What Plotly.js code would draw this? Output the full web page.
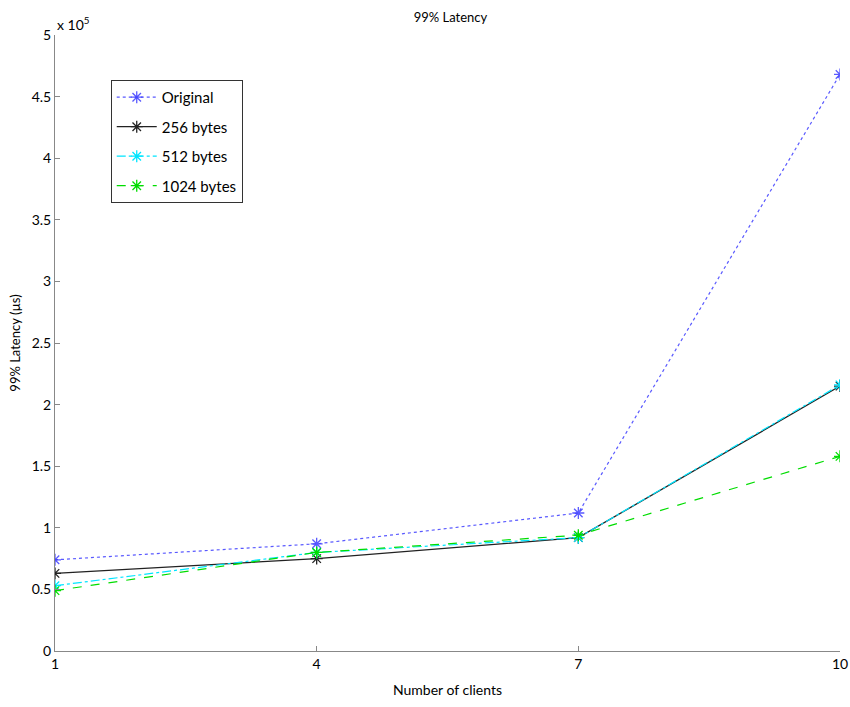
<!DOCTYPE html>
<html>
<head>
<meta charset="utf-8">
<script src="https://cdn.plot.ly/plotly-3.0.1.min.js"></script>
<style>
  html, body { margin: 0; padding: 0; background: #fff; }
  #chart { width: 850px; height: 707px; }
</style>
</head>
<body>
<div id="chart"></div>
<script>
// Number of clients on the x axis
const clients = [1, 4, 7, 10];

// 99th percentile latency in microseconds
const original = [74000, 87000, 112000, 468000];
const bytes256 = [63000, 75000, 92000, 215000];
const bytes512 = [53000, 80000, 92000, 216000];
const bytes1024 = [49000, 80000, 94000, 158000];

const seriesNames = ['Original', '256 bytes', '512 bytes', '1024 bytes'];

// y tick labels are shown in units of 1e5
const yTickLabels = ['0', '0.5', '1', '1.5', '2', '2.5', '3', '3.5', '4', '4.5', '5'];
const yScale = 1e5;

const styles = [
  { color: 'rgba(60,60,255,0.85)', dash: 'dot' },
  { color: '#222222', dash: 'solid' },
  { color: '#00e5ff', dash: 'dashdot' },
  { color: '#00dd00', dash: 'dash' }
];
const values = [original, bytes256, bytes512, bytes1024];

const traces = values.map((v, i) => ({
  x: clients,
  y: v,
  name: seriesNames[i],
  legendgroup: 'g' + i,
  type: 'scatter',
  mode: 'lines+markers',
  line: { color: styles[i].color, dash: styles[i].dash, width: i === 1 ? 1.3 : 1.2 },
  marker: { symbol: 'asterisk-open', size: 10, line: { color: styles[i].color, width: 1.3 } }
}));

const font = { family: 'Lato, "Liberation Sans", sans-serif', size: 14, color: '#000' };

const layout = {
  width: 850,
  height: 707,
  margin: { l: 55, r: 10, t: 35, b: 56 },
  paper_bgcolor: '#fff',
  plot_bgcolor: '#fff',
  font: font,
  showlegend: true,
  title: { text: '99% Latency', font: { family: font.family, size: 13, color: '#000' }, x: 0.53, xanchor: 'center', y: 0.976, yanchor: 'middle' },
  xaxis: {
    range: [1, 10],
    tickvals: clients,
    ticktext: clients.map(String),
    ticks: 'inside',
    ticklen: 5,
    tickcolor: '#888',
    showline: true,
    linecolor: '#888',
    linewidth: 1,
    showgrid: false,
    zeroline: false,
    tickfont: { family: font.family, size: 14, color: '#000' },
    title: { text: 'Number of clients', font: { family: font.family, size: 14, color: '#000' }, standoff: 14 }
  },
  yaxis: {
    range: [0, 5 * yScale],
    tickvals: yTickLabels.map(t => parseFloat(t) * yScale),
    ticktext: yTickLabels,
    ticks: 'inside',
    ticklen: 5,
    tickcolor: '#888',
    showline: true,
    linecolor: '#888',
    linewidth: 1,
    showgrid: false,
    zeroline: false,
    tickfont: { family: font.family, size: 14, color: '#000' },
    title: { text: '99% Latency (\u00b5s)', font: { family: font.family, size: 13, color: '#000' }, standoff: 8 }
  },
  legend: {
    x: 0.071, y: 0.927, xanchor: 'left', yanchor: 'top',
    bgcolor: '#fff',
    bordercolor: '#333',
    borderwidth: 1,
    font: { family: font.family, size: 15, color: '#000' },
    traceorder: 'grouped',
    tracegroupgap: 7,
    itemwidth: 40
  },
  annotations: [{
    text: 'x 10<sup>5</sup>',
    xref: 'paper', yref: 'paper',
    x: 0.0, y: 1.0, xanchor: 'left', yanchor: 'bottom',
    showarrow: false,
    font: { family: font.family, size: 14, color: '#000' }
  }]
};

Plotly.newPlot('chart', traces, layout, { displayModeBar: false, staticPlot: true });
</script>
</body>
</html>
